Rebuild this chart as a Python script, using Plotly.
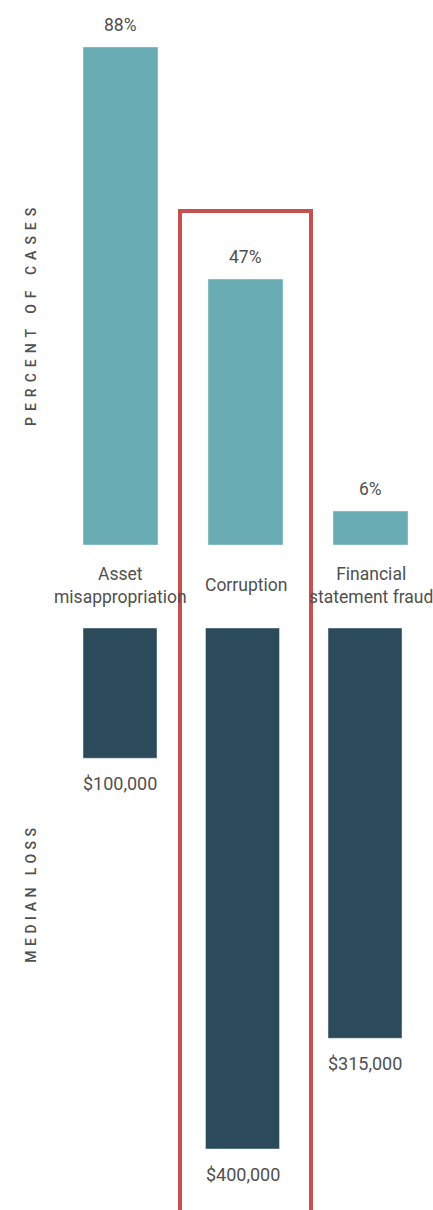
import plotly.graph_objects as go

categories = ["Asset misappropriation", "Corruption", "Financial statement fraud"]
category_labels = ["Asset<br>misappropriation", "Corruption", "Financial<br>statement fraud"]
percent_cases = [88, 47, 6]
percent_labels = ["88%", "47%", "6%"]
median_loss = [100000, 400000, 315000]
loss_labels = ["$100,000", "$400,000", "$315,000"]

W, H = 433, 1210
TEAL = "#6aacb3"
DARK = "#2b4a5a"
GRAY = "#505050"
RED = "#c4504f"
FONT = "Roboto"

def py(px):
    return 1 - px / H

def px_x(px):
    return px / W

fig = go.Figure()
fig.add_trace(go.Bar(x=categories, y=percent_cases, marker_color=TEAL, width=0.6,
                     xaxis="x", yaxis="y", hoverinfo="skip", showlegend=False))
fig.add_trace(go.Bar(x=categories, y=median_loss, marker_color=DARK, width=0.604,
                     xaxis="x2", yaxis="y2", hoverinfo="skip", showlegend=False))

annotations = []
for c, v, t in zip(categories, percent_cases, percent_labels):
    annotations.append(dict(x=c, y=v, xref="x", yref="y", text=t, showarrow=False,
                            yanchor="bottom", yshift=10,
                            font=dict(family=FONT, size=17.5, color=GRAY)))
for c, v, t in zip(categories, median_loss, loss_labels):
    annotations.append(dict(x=c, y=v, xref="x2", yref="y2", text=t, showarrow=False,
                            yanchor="top", yshift=-13,
                            font=dict(family=FONT, size=18, color=GRAY)))
for c, t in zip(categories, category_labels):
    annotations.append(dict(x=c, y=py(585), xref="x", yref="paper", text=t, showarrow=False,
                            yanchor="middle", font=dict(family=FONT, size=17.5, color=GRAY)))
annotations.append(dict(x=px_x(31), y=py(314), xref="paper", yref="paper", text="PERCENT OF CASES",
                        xanchor="center", yanchor="middle",
                        textangle=-90, showarrow=False,
                        font=dict(family=FONT, size=14, color=GRAY, weight=500)))
annotations.append(dict(x=px_x(31), y=py(893), xref="paper", yref="paper", text="MEDIAN LOSS",
                        xanchor="center", yanchor="middle",
                        textangle=-90, showarrow=False,
                        font=dict(family=FONT, size=14, color=GRAY, weight=500)))

top_scale = 498 / 88.0
bot_scale = 521 / 400000.0

axis_common = dict(showgrid=False, zeroline=False, showticklabels=False, ticks="", showline=False)

fig.update_layout(
    width=W, height=H,
    margin=dict(l=0, r=0, t=0, b=0),
    paper_bgcolor="white", plot_bgcolor="white",
    xaxis=dict(domain=[px_x(58), px_x(433)], range=[-0.5, 2.5], autorange=False,
               anchor="y", **axis_common),
    yaxis=dict(domain=[py(545), py(20)], range=[0, 525 / top_scale], anchor="x", **axis_common),
    xaxis2=dict(domain=[px_x(58.75), px_x(426.25)], range=[-0.5, 2.5], autorange=False,
                anchor="y2", **axis_common),
    yaxis2=dict(domain=[py(1210), py(628)], range=[582 / bot_scale, 0], anchor="x2", **axis_common),
    annotations=annotations,
    shapes=[dict(type="rect", xref="paper", yref="paper",
                 x0=px_x(180), x1=px_x(311), y0=py(1220), y1=py(211),
                 line=dict(color=RED, width=4), fillcolor="rgba(0,0,0,0)", layer="above")],
    bargap=0,
    barmode="overlay",
    hovermode=False,
)

post = """
document.body.style.margin = '0';
document.body.style.overflow = 'hidden';
var gd = document.getElementById('{plot_id}');
var spacing = {'PERCENT OF CASES': '6px', 'MEDIAN LOSS': '4.5px'};
gd.querySelectorAll('text.annotation-text').forEach(function(t){
  var s = t.textContent;
  if (spacing[s]) {
    var b0 = t.getBoundingClientRect();
    var cx0 = b0.left + b0.width / 2, cy0 = b0.top + b0.height / 2;
    t.style.letterSpacing = spacing[s];
    var b1 = t.getBoundingClientRect();
    var cx1 = b1.left + b1.width / 2, cy1 = b1.top + b1.height / 2;
    var g = t.closest('g.annotation');
    if (g) { g.setAttribute('transform', 'translate(' + (cx0 - cx1) + ',' + (cy0 - cy1) + ')'); }
  }
});
"""
fig.write_html("out.html", post_script=post, config={"displayModeBar": False, "staticPlot": True})
